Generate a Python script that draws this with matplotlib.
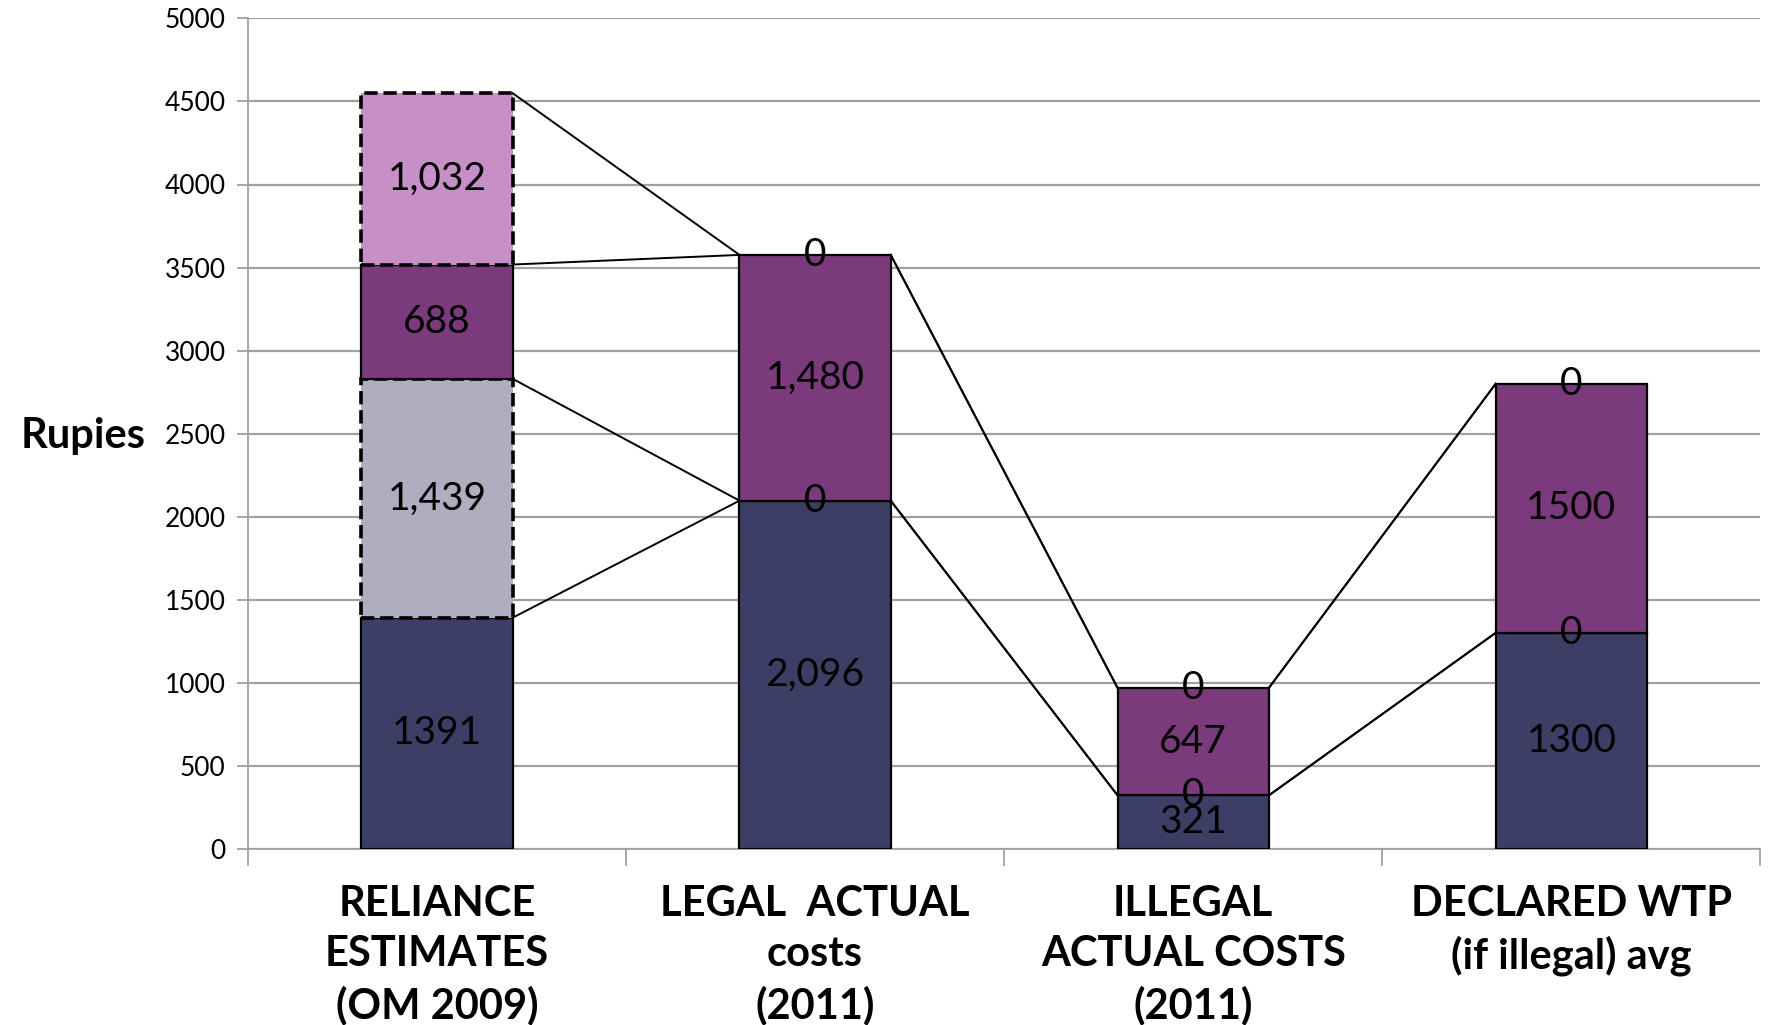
import matplotlib.pyplot as plt
import numpy as np

plt.rcParams['font.family'] = ['Lato', 'DejaVu Sans']

categories = ["RELIANCE\nESTIMATES\n(OM 2009)", "LEGAL  ACTUAL\ncosts\n(2011)",
              "ILLEGAL\nACTUAL COSTS\n(2011)", "DECLARED WTP\n(if illegal) avg"]

# stacked series, bottom to top
base = [1391, 2096, 321, 1300]
extra_low = [1439, 0, 0, 0]
mid = [688, 1480, 647, 1500]
extra_high = [1032, 0, 0, 0]

# which labels get a thousands separator
base_comma = [False, True, True, False]
extra_low_comma = [True, True, True, True]
mid_comma = [True, True, True, False]
extra_high_comma = [True, True, True, True]

yticks = [0, 500, 1000, 1500, 2000, 2500, 3000, 3500, 4000, 4500, 5000]

series = [
    (base, base_comma, "#3d3e66", "solid"),
    (extra_low, extra_low_comma, "#aeaec0", "dashed"),
    (mid, mid_comma, "#7a3a7b", "solid"),
    (extra_high, extra_high_comma, "#c78fc8", "dashed"),
]

fig = plt.figure(figsize=(17.71, 10.25), dpi=100)
ax = fig.add_axes([0.140, 0.172, 0.854, 0.810])

x = np.arange(len(categories))
w = 0.4
bottom = np.zeros(len(categories))
tops = []
for vals, comma, color, ls in series:
    vals = np.array(vals, dtype=float)
    lw = 2.6 if ls == "dashed" else 1.6
    # empty segments get no outline
    edges = ["black" if v > 0 else "none" for v in vals]
    ax.bar(x, vals, w, bottom=bottom, color=color, edgecolor=edges,
           linewidth=lw, linestyle=ls, zorder=3)
    for i, v in enumerate(vals):
        txt = "{:,.0f}".format(v) if comma[i] else "{:.0f}".format(v)
        ax.text(x[i], bottom[i] + v / 2, txt, ha="center", va="center",
                fontsize=28, color="black", zorder=5)
    bottom = bottom + vals
    tops.append(bottom.copy())

# series lines between neighbouring bars
for t in tops:
    for i in range(len(categories) - 1):
        ax.plot([x[i] + w / 2, x[i + 1] - w / 2], [t[i], t[i + 1]],
                color="black", linewidth=1.4, zorder=4)

ax.set_xlim(-0.5, 3.5)
ax.set_ylim(0, 5000)
ax.set_yticks(yticks)
ax.set_yticklabels([str(v) for v in yticks], fontsize=19)
ax.yaxis.grid(True, color="#a0a0a0", linewidth=1.6, zorder=0)
ax.set_axisbelow(True)

ax.set_xticks(x)
ax.set_xticklabels(categories, fontsize=30, fontweight="bold", linespacing=1.38)
ax.tick_params(axis="x", length=0, pad=26)
ax.set_xticks(np.arange(-0.5, 4.0, 1.0), minor=True)
ax.tick_params(axis="x", which="minor", length=12, color="#a0a0a0", width=1.3)
ax.tick_params(axis="y", length=8, color="#a0a0a0", width=1.3, pad=8)

for s in ["top", "right"]:
    ax.spines[s].set_visible(False)
for s in ["left", "bottom"]:
    ax.spines[s].set_color("#a0a0a0")
    ax.spines[s].set_linewidth(1.3)

fig.text(0.082, 0.575, "Rupies", ha="right", va="center", fontsize=30,
         fontweight="bold")

fig.savefig("out.png", dpi=100)
